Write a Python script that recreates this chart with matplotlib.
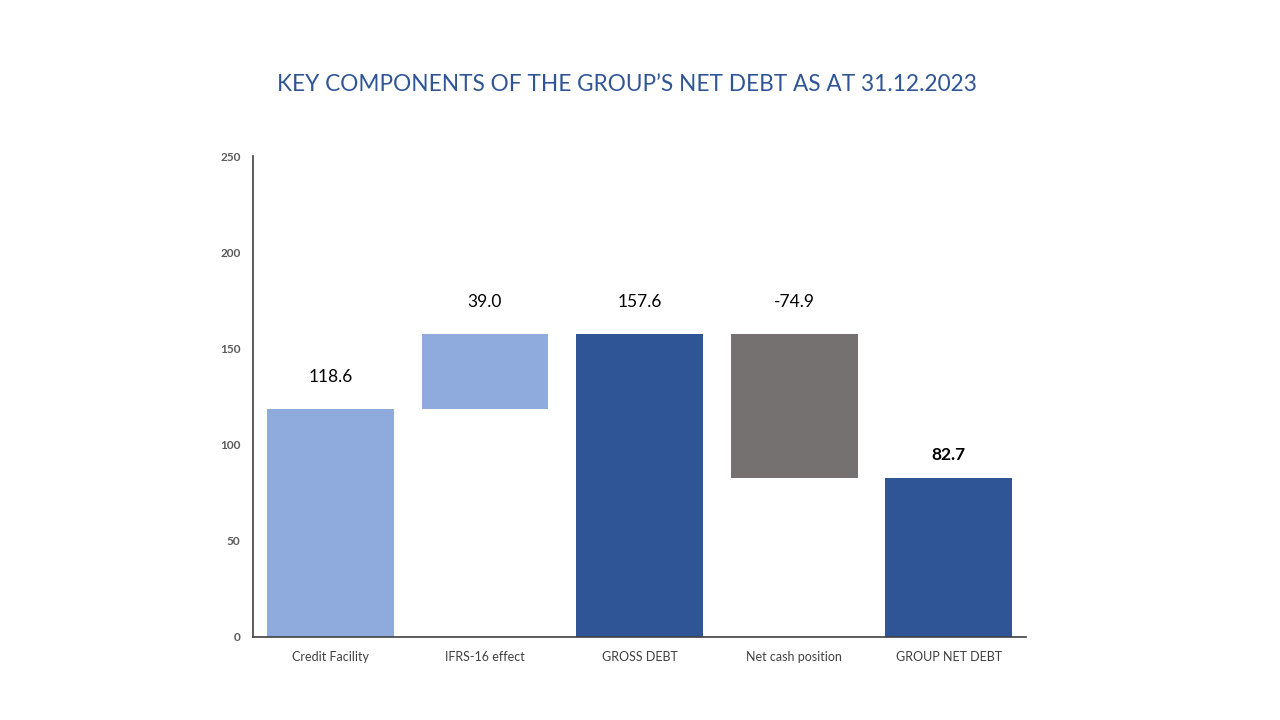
import matplotlib
matplotlib.use("Agg")
import matplotlib.pyplot as plt

plt.rcParams['font.family'] = ['Lato', 'DejaVu Sans']

categories = ["Credit Facility", "IFRS-16 effect", "GROSS DEBT", "Net cash position", "GROUP NET DEBT"]
values = [118.6, 39.0, 157.6, -74.9, 82.7]
is_total = [False, False, True, False, True]
labels = ["118.6", "39.0", "157.6", "-74.9", "82.7"]
colors = ["#8FAADC", "#8FAADC", "#2F5597", "#767171", "#2F5597"]

# waterfall bottoms
bottoms = []
heights = []
running = 0.0
for v, tot in zip(values, is_total):
    if tot:
        bottoms.append(0)
        heights.append(v)
        running = v
    elif v >= 0:
        bottoms.append(running)
        heights.append(v)
        running += v
    else:
        bottoms.append(running + v)
        heights.append(-v)
        running += v

fig = plt.figure(figsize=(12.8, 7.2), dpi=100)
ax = fig.add_axes([0.1977, 0.1153, 0.604, 0.668])

x = range(len(categories))
ax.bar(x, heights, bottom=bottoms, width=0.82, color=colors)

for i, lab in enumerate(labels):
    top = bottoms[i] + heights[i]
    bold = (i == len(labels) - 1)
    off = 12 if bold else 16.5
    ax.text(i, top + off, lab, ha="center", va="center", fontsize=12.5,
            color="black", fontweight="bold" if bold else "normal")

ax.set_xlim(-0.5, 4.5)
ax.set_ylim(0, 250)
ax.set_yticks([0, 50, 100, 150, 200, 250])
ax.set_xticks(list(x))
ax.set_xticklabels(categories, fontsize=9, color="#404040")
for t in ax.get_yticklabels():
    t.set_fontsize(8.5)
    t.set_fontweight("bold")
    t.set_color("#595959")
ax.tick_params(axis="both", length=0, pad=10)
ax.tick_params(axis="y", pad=9)

for s in ["top", "right"]:
    ax.spines[s].set_visible(False)
ax.spines["left"].set_color("#404040")
ax.spines["bottom"].set_color("#404040")
ax.spines["left"].set_linewidth(1.2)
ax.spines["bottom"].set_linewidth(1.2)

fig.text(0.49, 0.883, "KEY COMPONENTS OF THE GROUP\u2019S NET DEBT AS AT 31.12.2023",
         ha="center", va="center", fontsize=16.3, color="#2F5597")

fig.savefig("out.png", dpi=100)
